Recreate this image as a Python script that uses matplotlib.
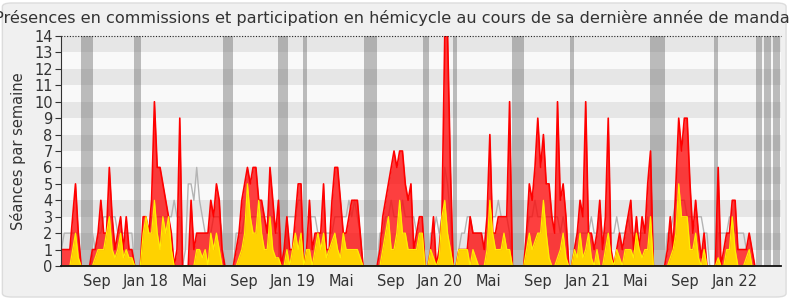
import matplotlib
matplotlib.use("Agg")
import matplotlib.pyplot as plt
from matplotlib.patches import FancyBboxPatch
import pandas as pd

# séries hebdomadaires, à partir de la semaine du 5 juin 2017
debut = "2017-06-05"

presences = [
    1, 1, 1, 1, 3, 5, 2, 0, 0, 0,
    0, 1, 1, 2, 4, 2, 2, 6, 3, 1,
    2, 3, 1, 3, 1, 1, 0, 0, 0, 3,
    3, 2, 4, 10, 6, 6, 5, 4, 3, 2,
    0, 1, 9, 0, 0, 0, 4, 1, 2, 2,
    2, 2, 2, 4, 3, 5, 4, 1, 0, 0,
    0, 0, 1, 2, 4, 5, 6, 5, 6, 6,
    4, 4, 3, 2, 6, 4, 2, 4, 0, 1,
    3, 1, 1, 3, 5, 5, 0, 1, 4, 1,
    2, 2, 2, 5, 1, 1, 4, 6, 6, 4,
    2, 2, 3, 4, 4, 4, 2, 0, 0, 0,
    0, 0, 0, 1, 3, 4, 5, 6, 7, 6,
    7, 7, 5, 4, 5, 1, 2, 3, 3, 0,
    0, 1, 3, 0, 1, 3, 14, 14, 6, 0,
    0, 1, 1, 1, 1, 3, 2, 2, 2, 2,
    1, 3, 8, 2, 2, 3, 3, 3, 3, 10,
    0, 0, 0, 0, 0, 2, 5, 4, 6, 9,
    6, 8, 5, 5, 3, 2, 10, 4, 5, 3,
    0, 0, 1, 2, 4, 3, 10, 2, 2, 1,
    2, 4, 1, 3, 9, 1, 0, 1, 2, 1,
    2, 3, 4, 1, 3, 1, 3, 2, 5, 7,
    0, 0, 0, 0, 0, 1, 3, 1, 5, 9,
    7, 9, 9, 5, 2, 4, 2, 0.5, 2, 0,
    0, 0, 0, 6, 0, 1, 2, 2, 4, 4,
    1, 1, 1, 1, 2, 1, 0,
]

hemicycle = [
    0, 0, 0, 0, 1, 2, 0.5, 0, 0, 0,
    0, 0, 0.5, 1, 1, 1, 2, 3, 1, 0.5,
    1, 2, 0.5, 1, 0.5, 0.5, 0, 0, 0, 2,
    3, 2, 2, 4, 2, 1, 3, 2, 3, 1,
    0, 0, 0, 0, 0, 0, 0, 0, 1, 1,
    0.5, 1, 0, 2, 1, 2, 1, 0, 0, 0,
    0, 0, 0, 0.5, 1, 2, 5, 3, 2, 2,
    4, 2, 1, 1, 3, 1, 0.5, 0.5, 0, 0,
    1, 0, 1, 2, 1, 2, 0, 1, 1, 0,
    1, 2, 1, 2, 0.5, 1, 1.5, 2, 1, 0.5,
    2, 1, 1, 1, 1, 1, 0.5, 0, 0, 0,
    0, 0, 0, 0, 1, 2, 3, 1, 1, 2,
    4, 2, 2, 1, 1, 1, 1, 2, 2, 0,
    0, 1, 0.5, 0, 0.5, 3, 4, 2, 1, 0,
    0, 1, 1, 1, 1, 0, 1, 0.5, 0, 0,
    0, 1, 4, 2, 1, 1, 1, 2, 1, 1,
    0, 0, 0, 0, 0, 1, 2, 1, 1.5, 2,
    2, 4, 2, 0.5, 0, 0, 0.5, 1, 2, 0.5,
    0, 0, 1, 0.5, 2, 0.5, 1, 2, 0.5, 0,
    1, 0, 0, 1, 2, 0.5, 0, 1, 0.5, 0,
    1, 1, 1, 0.5, 2, 1, 0.5, 1, 1, 3,
    0, 0, 0, 0, 0, 0, 0.5, 1, 2, 5,
    3, 3, 3, 1, 1, 2, 0.5, 0, 1, 0,
    0, 0, 0, 0.5, 0, 0, 1, 1, 3, 1,
    0, 0, 0, 0.5, 1, 0, 0,
]

mediane = [
    1, 2, 2, 2, 2, 2, 2, 0, 0, 0,
    0, 2, 1, 2, 2, 3, 3, 3, 3, 3,
    2, 2, 2, 2, 2, 2, 0, 0, 0, 1,
    2, 2, 3, 3, 3, 3, 3, 3, 3, 3,
    4, 3, 3, 0, 1, 5, 5, 4, 6, 4,
    3, 2, 2, 2, 3, 3, 3, 2, 0, 0,
    0, 0, 2, 2, 2, 3, 3, 3, 3, 3,
    3, 3, 3, 3, 3, 3, 2, 2, 0, 2,
    3, 3, 3, 3, 4, 4, 0, 3, 3, 3,
    3, 2, 2, 2, 2, 2, 2, 3, 3, 3,
    3, 3, 4, 3, 4, 3, 2, 0, 0, 0,
    0, 0, 0, 2, 2, 3, 3, 4, 3, 3,
    3, 4, 3, 3, 3, 3, 2, 2, 1, 0,
    0, 2, 2, 3, 2, 3, 6, 5, 3, 0,
    0, 1, 2, 2, 3, 3, 2, 2, 2, 2,
    2, 2, 3, 3, 3, 4, 3, 3, 3, 2,
    0, 0, 0, 0, 0, 2, 3, 3, 4, 3,
    3, 3, 3, 3, 3, 3, 3, 2, 3, 2,
    0, 0, 1, 2, 2, 2, 2, 2, 3, 2,
    2, 3, 2, 2, 2, 2, 2, 3, 2, 2,
    2, 3, 2, 2, 2, 2, 2, 2, 3, 0,
    0, 0, 0, 0, 0, 2, 2, 3, 4, 4,
    4, 4, 3, 3, 3, 3, 3, 3, 2, 2,
    0, 0, 0, 2, 2, 2, 2, 3, 3, 2,
    2, 2, 2, 1, 1, 0, 0,
]

# périodes de vacances parlementaires (bandes grises)
vacances = [
    ("2017-07-24", "2017-08-22"), ("2017-12-02", "2017-12-20"),
    ("2018-07-11", "2018-08-05"), ("2018-11-25", "2018-12-20"),
    ("2019-01-26", "2019-02-05"), ("2019-06-27", "2019-07-29"),
    ("2019-11-20", "2019-12-05"), ("2020-02-03", "2020-02-13"),
    ("2020-06-28", "2020-07-28"), ("2020-11-19", "2020-11-29"),
    ("2021-06-06", "2021-07-13"), ("2021-11-12", "2021-11-22"),
    ("2022-02-24", "2022-03-11"), ("2022-03-16", "2022-04-03"),
    ("2022-04-08", "2022-04-25"),
]

mois = ["2017-09-01", "2018-01-01", "2018-05-01", "2018-09-01", "2019-01-01",
        "2019-05-01", "2019-09-01", "2020-01-01", "2020-05-01", "2020-09-01",
        "2021-01-01", "2021-05-01", "2021-09-01", "2022-01-01"]
mois_labels = ["Sep", "Jan 18", "Mai", "Sep", "Jan 19", "Mai", "Sep", "Jan 20",
               "Mai", "Sep", "Jan 21", "Mai", "Sep", "Jan 22"]

titre = ("Présences en commissions et participation en hémicycle "
         "au cours de sa dernière année de mandat")

semaines = pd.date_range(debut, periods=len(presences), freq="7D")

fig = plt.figure(figsize=(7.9, 3.0), dpi=100)
fig.patch.set_facecolor("white")
cadre = FancyBboxPatch(
    (0.003, 0.01), 0.992, 0.98, boxstyle="round,pad=0,rounding_size=0.012",
    transform=fig.transFigure, facecolor="#f0f0f0", edgecolor="#dcdcdc", lw=1,
    zorder=-10)
fig.patches.append(cadre)

ax = fig.add_axes([61 / 790, 34 / 300, 720 / 790, 230 / 300])
ax.set_facecolor("#f9f9f9")

# bandes horizontales alternées
for k in range(14):
    ax.axhspan(k, k + 1, color="#e6e6e6" if k % 2 else "#f9f9f9", lw=0, zorder=0)

for a, b in vacances:
    ax.axvspan(pd.Timestamp(a), pd.Timestamp(b), color="#666666", alpha=0.42,
               lw=0, zorder=1)

ax.plot(semaines, mediane, color="#b4b4b4", lw=1.0, zorder=2)
ax.fill_between(semaines, presences, color="#ff0000", alpha=0.75, lw=0, zorder=3)
ax.plot(semaines, presences, color="#ff0000", lw=1.2, zorder=4)
ax.fill_between(semaines, hemicycle, color="#ffd200", lw=0, zorder=5)
ax.plot(semaines, hemicycle, color="#ffee00", lw=0.9, zorder=6)

ax.axhline(14, color="#222222", ls=(0, (1, 1.5)), lw=0.8, clip_on=False, zorder=7)

ax.set_xlim(pd.Timestamp("2017-06-04"), pd.Timestamp("2022-04-27"))
ax.set_ylim(0, 14)
ax.set_yticks(range(15))
ax.set_xticks([pd.Timestamp(m) for m in mois])
ax.set_xticklabels(mois_labels)

for s in ("top", "right"):
    ax.spines[s].set_visible(False)
ax.spines["left"].set_color("#333333")
ax.spines["bottom"].set_color("#111111")
ax.spines["bottom"].set_linewidth(1.3)
ax.spines["left"].set_zorder(8)
ax.spines["bottom"].set_zorder(8)

ax.tick_params(axis="y", length=4, width=0.8, color="#333333",
               labelsize=10.5, labelcolor="#333333", pad=2)
ax.tick_params(axis="x", length=0, labelsize=10.5, labelcolor="#333333", pad=6)

ax.set_ylabel("Séances par semaine", fontsize=10.5, color="#333333", labelpad=6)
fig.text(0.5, 0.94, titre, ha="center", va="center", fontsize=11.6, color="#333333")

fig.savefig("out.png", dpi=100)
